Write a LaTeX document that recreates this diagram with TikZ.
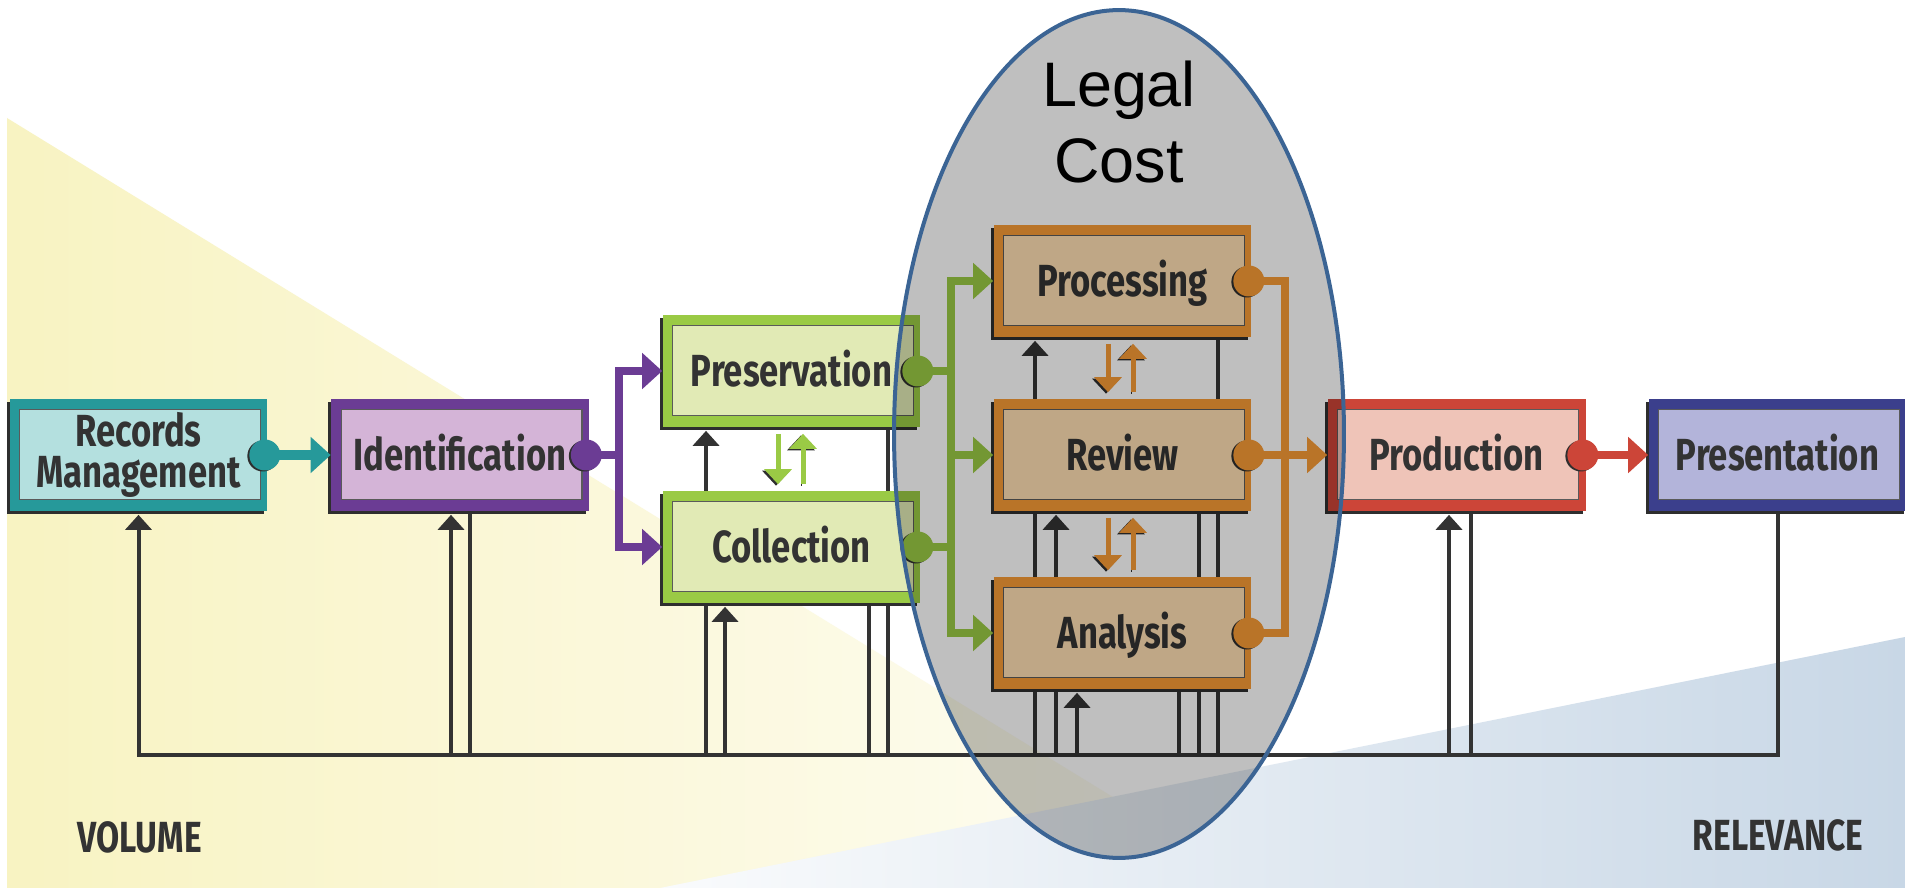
\documentclass[tikz,border=0pt]{standalone}
\usepackage{fontspec}
\usetikzlibrary{arrows.meta,shadows}
\newfontfamily\stagefont[FakeStretch=0.77]{Fira Sans}
\newfontfamily\costfont{Liberation Sans}

\definecolor{linkgray}{HTML}{333333}
\definecolor{boxshadow}{HTML}{2E2E2E}
\definecolor{innerline}{HTML}{5A5A5A}
\definecolor{rmteal}{HTML}{26999A}
\definecolor{rmlight}{HTML}{B4E0DF}
\definecolor{idpurple}{HTML}{6B3C94}
\definecolor{idlight}{HTML}{D4B4D7}
\definecolor{pcgreen}{HTML}{9ACA45}
\definecolor{pclight}{HTML}{E1EAB5}
\definecolor{praorange}{HTML}{F89B36}
\definecolor{pralight}{HTML}{FFE0B3}
\definecolor{prodred}{HTML}{CC4538}
\definecolor{prodlight}{HTML}{EFC4B8}
\definecolor{pstnblue}{HTML}{3B3F8C}
\definecolor{pstnlight}{HTML}{B3B4DA}
\definecolor{volyellow}{HTML}{F8F3C2}
\definecolor{relblue}{HTML}{C8D7E6}
\definecolor{costedge}{HTML}{3B6494}

\pgfdeclarelayer{wedges}
\pgfdeclarelayer{lines}
\pgfsetlayers{wedges,lines,main}

\tikzset{
  stage/.style 2 args={fill=#1, minimum width=5.16cm, minimum height=2.26cm, inner sep=0pt,
    text=linkgray, align=center, text height=17.7pt, text depth=0pt,
    font=\stagefont\bfseries\fontsize{25.6}{23.3}\selectfont,
    drop shadow={shadow xshift=-0.06cm, shadow yshift=-0.06cm, fill=boxshadow, opacity=1},
    path picture={\draw[innerline, line width=0.6pt, fill=#2]
      ([shift={(0.2cm,0.24cm)}]path picture bounding box.south west) rectangle
      ([shift={(-0.14cm,-0.22cm)}]path picture bounding box.north east);}},
  feedback/.style={draw=linkgray, line width=0.08cm},
  upto/.style={feedback, shorten >=0.06cm, -{Triangle[width=0.52cm,length=0.3cm]}},
  flow/.style={draw=#1, line width=0.16cm, line cap=rect},
  flowto/.style={draw=#1, line width=0.16cm, -{Triangle[width=0.7cm,length=0.4cm]}},
  dot/.style={circle, fill=#1, inner sep=0pt, minimum size=0.62cm,
    drop shadow={shadow xshift=-0.04cm, shadow yshift=-0.02cm, fill=boxshadow, opacity=1}},
  swap/.style={draw=#1, line width=0.1cm, shorten <=0.12cm, shorten >=0.12cm,
    -{Triangle[width=0.54cm,length=0.3cm]},
    preaction={draw=boxshadow, transform canvas={xshift=-0.04cm, yshift=-0.03cm}}},
  costlabel/.style={font=\costfont\fontsize{35.8}{43}\selectfont, inner sep=0pt},
  axislabel/.style={font=\stagefont\bfseries\fontsize{24.8}{28}\selectfont, text=linkgray, inner sep=0pt}
}

\begin{document}
\begin{tikzpicture}[x=0.02cm, y=-0.02cm]
  \begin{pgfonlayer}{wedges}
    \fill[white] (0,0) rectangle (1905,888);
    \shade[left color=volyellow, right color=volyellow!15] (7,118) -- (1261,888) -- (7,888) -- cycle;
    \shade[left color=relblue!10, right color=relblue] (660,888) -- (1905,637) -- (1905,888) -- cycle;
  \end{pgfonlayer}
  \useasboundingbox (0,0) rectangle (1905,888);

  % stages
  \node[stage={rmteal}{rmlight}, text height={}, text depth={}] (rm) at (138.5,455) {Records\\Management};
  \node[stage={idpurple}{idlight}] (ident) at (460,455) {Identification};
  \node[stage={pcgreen}{pclight}] (pres) at (791.5,371) {Preservation};
  \node[stage={pcgreen}{pclight}] (coll) at (791.5,547) {Collection};
  \node[stage={praorange}{pralight}] (proc) at (1122.5,281) {Processing};
  \node[stage={praorange}{pralight}] (rev) at (1122.5,455) {Review};
  \node[stage={praorange}{pralight}] (ana) at (1122.5,633) {Analysis};
  \node[stage={prodred}{prodlight}] (prod) at (1456.5,455) {Production};
  \node[stage={pstnblue}{pstnlight}] (pstn) at (1777.5,455) {Presentation};

  % feedback lines behind the stages
  \begin{pgfonlayer}{lines}
    \coordinate (base) at (0,755);
    \draw[upto] (pstn.south) |- (rm.south |- base) -- (rm.south);
    \draw[upto] ([xshift=-0.18cm]ident.south |- base) -- ([xshift=-0.18cm]ident.south);
    \draw[feedback] ([xshift=0.2cm]ident.south) -- ([xshift=0.2cm]ident.south |- base);
    \draw[upto] ([xshift=-1.71cm]coll.south |- base) -- ([xshift=-1.71cm]pres.south);
    \draw[upto] ([xshift=-1.33cm]coll.south |- base) -- ([xshift=-1.33cm]coll.south);
    \draw[feedback] ([xshift=1.55cm]coll.south) -- ([xshift=1.55cm]coll.south |- base);
    \draw[feedback] ([xshift=1.93cm]pres.south) -- ([xshift=1.93cm]pres.south |- base);
    \draw[upto] ([xshift=-1.75cm]ana.south |- base) -- ([xshift=-1.75cm]proc.south);
    \draw[upto] ([xshift=-1.33cm]ana.south |- base) -- ([xshift=-1.33cm]rev.south);
    \draw[upto] ([xshift=-0.91cm]ana.south |- base) -- ([xshift=-0.91cm]ana.south);
    \draw[feedback] ([xshift=1.13cm]ana.south) -- ([xshift=1.13cm]ana.south |- base);
    \draw[feedback] ([xshift=1.53cm]rev.south) -- ([xshift=1.53cm]rev.south |- base);
    \draw[feedback] ([xshift=1.91cm]proc.south) -- ([xshift=1.91cm]proc.south |- base);
    \draw[upto] ([xshift=-0.15cm]prod.south |- base) -- ([xshift=-0.15cm]prod.south);
    \draw[feedback] ([xshift=0.29cm]prod.south) -- ([xshift=0.29cm]prod.south |- base);
  \end{pgfonlayer}

  % two-way arrows between stacked stages
  \draw[swap=pcgreen] ([xshift=-0.27cm]pres.south) -- ([xshift=-0.27cm]coll.north);
  \draw[swap=pcgreen] ([xshift=0.23cm]coll.north) -- ([xshift=0.23cm]pres.south);
  \draw[swap=praorange] ([xshift=-0.29cm]proc.south) -- ([xshift=-0.29cm]rev.north);
  \draw[swap=praorange] ([xshift=0.21cm]rev.north) -- ([xshift=0.21cm]proc.south);
  \draw[swap=praorange] ([xshift=-0.29cm]rev.south) -- ([xshift=-0.29cm]ana.north);
  \draw[swap=praorange] ([xshift=0.21cm]ana.north) -- ([xshift=0.21cm]rev.south);

  % outputs
  \node[dot=rmteal] (rmdot) at ([xshift=-0.06cm]rm.east) {};
  \node[dot=idpurple] (iddot) at ([xshift=-0.06cm]ident.east) {};
  \node[dot=pcgreen] (presdot) at ([xshift=-0.06cm]pres.east) {};
  \node[dot=pcgreen] (colldot) at ([xshift=-0.06cm]coll.east) {};
  \node[dot=praorange] (procdot) at ([xshift=-0.06cm]proc.east) {};
  \node[dot=praorange] (revdot) at ([xshift=-0.06cm]rev.east) {};
  \node[dot=praorange] (anadot) at ([xshift=-0.06cm]ana.east) {};
  \node[dot=prodred] (proddot) at ([xshift=-0.06cm]prod.east) {};

  \draw[flowto=rmteal, line width=0.2cm] (rmdot.center) -- (ident.west);

  \coordinate (idfork) at ([xshift=0.66cm]iddot.center);
  \draw[flow=idpurple] (iddot.center) -- (idfork);
  \draw[flow=idpurple] (idfork |- pres.west) -- (idfork |- coll.west);
  \draw[flowto=idpurple] (idfork |- pres.west) -- (pres.west);
  \draw[flowto=idpurple] (idfork |- coll.west) -- (coll.west);

  \coordinate (pcfork) at ([xshift=0.66cm]presdot.center);
  \draw[flow=pcgreen] (presdot.center) -- (pcfork);
  \draw[flow=pcgreen] (colldot.center) -- (pcfork |- colldot);
  \draw[flow=pcgreen] (pcfork |- proc.west) -- (pcfork |- ana.west);
  \draw[flowto=pcgreen] (pcfork |- proc.west) -- (proc.west);
  \draw[flowto=pcgreen] (pcfork |- rev.west) -- (rev.west);
  \draw[flowto=pcgreen] (pcfork |- ana.west) -- (ana.west);

  \coordinate (prafork) at ([xshift=0.72cm]procdot.center);
  \draw[flow=praorange] (procdot.center) -- (prafork) -- (prafork |- anadot) -- (anadot.center);
  \draw[flowto=praorange] (revdot.center) -- (prod.west);

  \draw[flowto=prodred] (proddot.center) -- (pstn.west);

  % legal cost zone
  \draw[costedge, line width=0.08cm, fill=black, fill opacity=0.25] (1119,434) ellipse [x radius=4.5cm, y radius=8.48cm];
  \node[costlabel, anchor=base] (legal) at (1119,107) {Legal};
  \node[costlabel, anchor=base] (cost) at (1119,183) {Cost};

  \node[axislabel, anchor=base] (volume) at (139.5,852) {VOLUME};
  \node[axislabel, anchor=base] (relevance) at (1778,850) {RELEVANCE};
\end{tikzpicture}
\end{document}
